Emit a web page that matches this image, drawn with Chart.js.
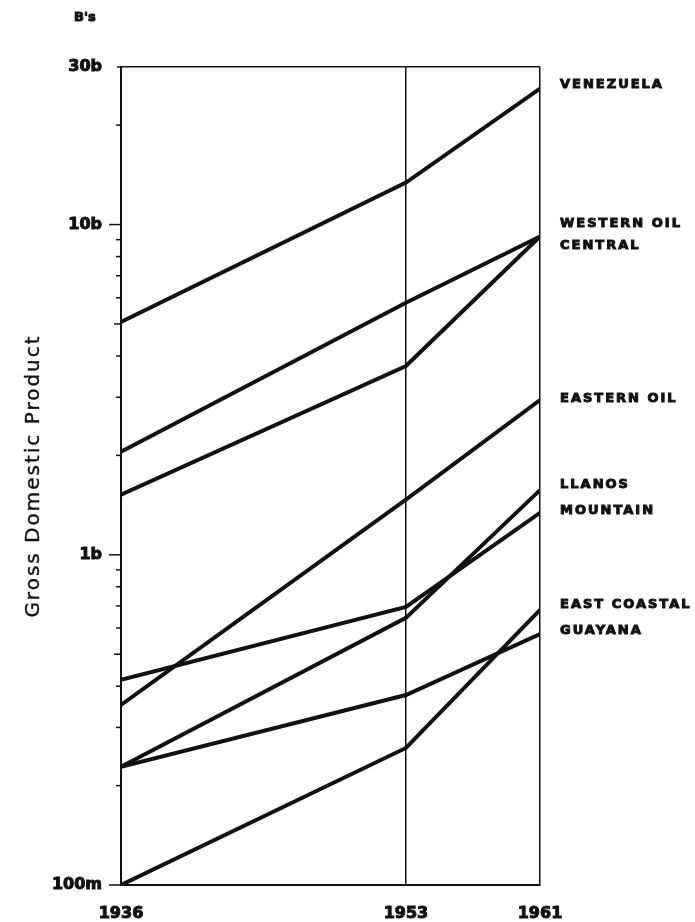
<!DOCTYPE html>
<html>
<head>
<meta charset="utf-8">
<script src="https://cdn.jsdelivr.net/npm/chart.js@4"></script>
<style>
  html, body { margin: 0; padding: 0; background: #fff; }
  #wrap { width: 695px; height: 922px; }
</style>
</head>
<body>
<div id="wrap"><canvas id="grafico"></canvas></div>
<script>
const years = [1936, 1953, 1961];
const regions = ['VENEZUELA', 'WESTERN OIL', 'CENTRAL', 'EASTERN OIL', 'LLANOS', 'MOUNTAIN', 'EAST COASTAL', 'GUAYANA'];

const venezuela = [5.07e9, 13.4e9, 25.8e9];
const westernOil = [2.05e9, 5.8e9, 9.2e9];
const central = [1.52e9, 3.73e9, 9.2e9];
const easternOil = [351e6, 1.47e9, 2.94e9];
const llanos = [228e6, 644e6, 1.57e9];
const mountain = [418e6, 695e6, 1.34e9];
const eastCoastal = [100e6, 260e6, 681e6];
const guayana = [228e6, 376e6, 575e6];

const yMajorValues = [1e8, 1e9, 1e10, 3e10];
const yMajorLabels = ['100m', '1b', '10b', '30b'];
const yMinorValues = [2e8, 3e8, 4e8, 5e8, 6e8, 7e8, 8e8, 9e8,
                      2e9, 3e9, 4e9, 5e9, 6e9, 7e9, 8e9, 9e9, 2e10];

const series = [venezuela, westernOil, central, easternOil, llanos, mountain, eastCoastal, guayana];

// ajustes de las etiquetas de la derecha (px respecto al final de la linea)
const desplazamientoEtiqueta = [-4, -13, 9, -1, -5, -2, -5, -4];

const tickFont = { family: 'DejaVu Sans', size: 16, weight: 'bold' };

const dibujosExtra = {
    id: 'dibujosExtra',
    afterDraw(chart) {
        const ctx = chart.ctx;
        const y = chart.scales.y;
        const area = chart.chartArea;
        ctx.save();
        ctx.strokeStyle = '#111';
        ctx.lineWidth = 1.5;

        // marcas del eje y
        const todos = yMajorValues.concat(yMinorValues);
        todos.forEach(v => {
            let largo = 5;
            if (v === 1e8 || v === 1e9 || v === 1e10) largo = 12;
            if (v === 5e8 || v === 5e9) largo = 7;
            if (v === 3e10) largo = 4;
            const py = y.getPixelForValue(v);
            ctx.beginPath();
            ctx.moveTo(area.left - largo, py);
            ctx.lineTo(area.left, py);
            ctx.stroke();
        });

        // B's
        ctx.fillStyle = '#111';
        ctx.strokeStyle = '#111';
        ctx.lineWidth = 1;
        ctx.font = 'bold 13px "DejaVu Sans"';
        ctx.textAlign = 'left';
        ctx.textBaseline = 'middle';
        ctx.fillText("B's", 74, 18);
        ctx.strokeText("B's", 74, 18);

        // titulo del eje y
        ctx.save();
        ctx.translate(34, 476);
        ctx.rotate(-Math.PI / 2);
        ctx.font = '20px "DejaVu Sans"';
        ctx.letterSpacing = '2px';
        ctx.textAlign = 'center';
        ctx.fillStyle = '#111';
        ctx.lineWidth = 0.4;
        ctx.fillText('Gross Domestic Product', 0, 0);
        ctx.strokeText('Gross Domestic Product', 0, 0);
        ctx.restore();

        // etiquetas de regiones
        ctx.font = 'bold 13px "DejaVu Sans"';
        ctx.letterSpacing = '2px';
        ctx.textAlign = 'left';
        ctx.textBaseline = 'middle';
        ctx.lineWidth = 1;
        regions.forEach((nombre, i) => {
            const datos = series[i];
            const py = y.getPixelForValue(datos[datos.length - 1]) + desplazamientoEtiqueta[i];
            ctx.fillText(nombre, area.right + 20, py);
            ctx.strokeText(nombre, area.right + 20, py);
        });
        ctx.restore();
    }
};

const ctx = document.getElementById('grafico').getContext('2d');

new Chart(ctx, {
    type: 'line',
    data: {
        datasets: series.map((datos, i) => ({
            label: regions[i],
            data: years.map((anio, j) => ({ x: anio, y: datos[j] })),
            borderColor: '#111',
            borderWidth: 4,
            pointRadius: 0,
            tension: 0,
            fill: false
        }))
    },
    options: {
        responsive: true,
        maintainAspectRatio: false,
        animation: false,
        layout: { padding: { top: 67, right: 155, left: 0, bottom: 0 } },
        plugins: {
            legend: { display: false },
            tooltip: { enabled: false }
        },
        scales: {
            x: {
                type: 'linear',
                min: 1936,
                max: 1961,
                afterBuildTicks: scale => {
                    scale.ticks = years.map(v => ({ value: v }));
                },
                afterFit: scale => {
                    scale.height = 37;
                    scale.paddingLeft = 0;
                    scale.paddingRight = 0;
                },
                ticks: {
                    color: '#111',
                    font: tickFont,
                    padding: 19,
                    maxRotation: 0,
                    textStrokeColor: '#111',
                    textStrokeWidth: 1,
                    callback: v => String(v)
                },
                grid: {
                    drawTicks: false,
                    lineWidth: 1.5,
                    color: c => (c.tick && (c.tick.value === 1953 || c.tick.value === 1961)) ? '#111' : 'rgba(0,0,0,0)'
                },
                border: { display: true, color: '#111', width: 2 }
            },
            y: {
                type: 'logarithmic',
                min: 1e8,
                max: 3e10,
                afterBuildTicks: scale => {
                    scale.ticks = yMajorValues.concat(yMinorValues).map(v => ({ value: v }));
                },
                afterFit: scale => {
                    scale.width = 121;
                    scale.paddingTop = 0;
                    scale.paddingBottom = 0;
                },
                ticks: {
                    color: '#111',
                    font: tickFont,
                    padding: 19,
                    autoSkip: false,
                    textStrokeColor: '#111',
                    textStrokeWidth: 1,
                    callback: v => {
                        const i = yMajorValues.indexOf(v);
                        return i >= 0 ? yMajorLabels[i] : '';
                    }
                },
                grid: {
                    drawTicks: false,
                    lineWidth: 1.5,
                    color: c => (c.tick && c.tick.value === 3e10) ? '#111' : 'rgba(0,0,0,0)'
                },
                border: { display: true, color: '#111', width: 2 }
            }
        }
    },
    plugins: [dibujosExtra]
});
</script>
</body>
</html>
